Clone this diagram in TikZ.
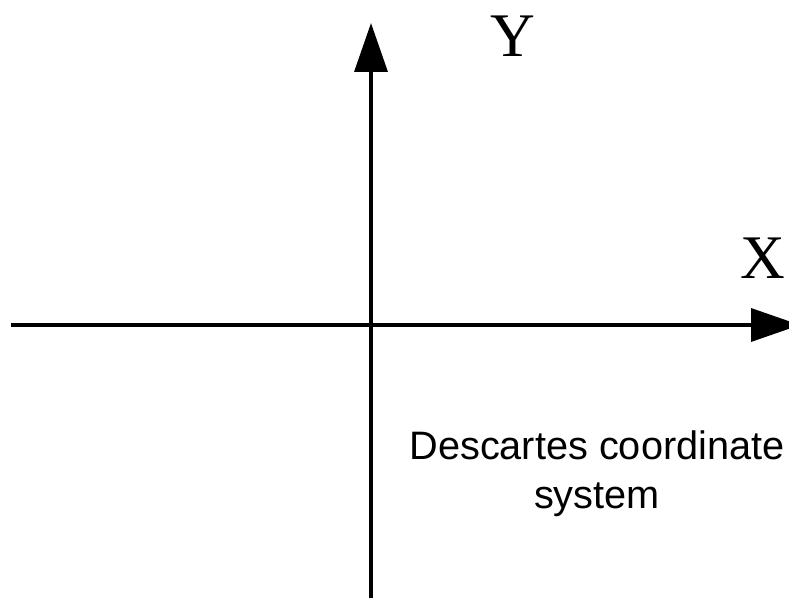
\documentclass[tikz,border=0pt]{standalone}
\usepackage{fontspec}
\setmainfont{Liberation Serif}
\newfontfamily\arialfont{Liberation Sans}
\usetikzlibrary{arrows.meta}
\begin{document}
\begin{tikzpicture}[x=1pt,y=1pt,
  axis/.style={line width=3.5pt,-{Triangle[length=49pt,width=33pt]}},
  axislabel/.style={font=\fontsize{62}{62}\selectfont,inner sep=0pt},
  caption/.style={font=\arialfont\fontsize{39.7}{49}\selectfont,align=center,inner sep=0pt}]
\useasboundingbox (0,0) rectangle (789,597);
\coordinate (xs) at (11,272);
\coordinate (xe) at (800,272);
\coordinate (ys) at (371,-2);
\coordinate (ye) at (371,574);
\draw[axis] (xs) -- (xe);
\draw[axis] (ys) -- (ye);
\node[axislabel] (ylab) at (513,561) {Y};
\node[axislabel] (xlab) at (763,339) {X};
\node[caption,anchor=base] (cap) at (597,89) {Descartes coordinate\\system};
\end{tikzpicture}
\end{document}
